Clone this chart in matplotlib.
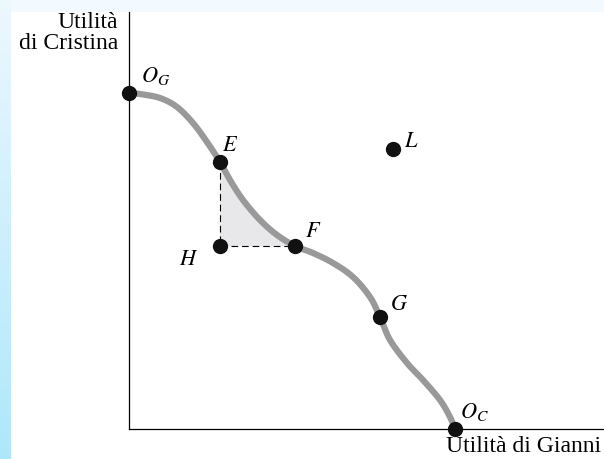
import matplotlib.pyplot as plt
import matplotlib.patches as mpatches
import numpy as np

plt.rcParams['mathtext.fontset'] = 'stix'

# frontier of utility possibilities (Gianni, Cristina)
curve_x = [0, 1.1, 3.1, 4.8, 6.4, 7.8, 9.1, 10.1, 11.4, 13.1, 14.8, 16.6,
           18.4, 20.4, 22.4, 24.1, 25.1, 26.1, 27.8, 29.4, 31.1, 32.1, 32.6]
curve_y = [33.6, 33.5, 33.1, 32.2, 30.6, 28.7, 26.7, 24.9, 22.9, 20.9, 19.4, 18.3,
           17.6, 16.6, 15.2, 13.2, 11.2, 8.9, 6.6, 4.9, 2.9, 1.2, 0]

point_names = ['$O_G$', '$E$', '$F$', '$H$', '$G$', '$O_C$', '$L$']
point_x = [0, 9.1, 16.6, 9.1, 25.1, 32.6, 26.4]
point_y = [33.6, 26.7, 18.3, 18.3, 11.2, 0, 28.0]
label_dx = [1.2, 0.2, 1.0, -4.1, 1.0, 0.5, 1.1]
label_dy = [0.6, 0.7, 0.5, -2.3, 0.3, 0.6, -0.2]


def smooth(xs, ys, n=12):
    # catmull-rom pass through the read points, only for drawing
    p = np.column_stack([xs, ys])
    p = np.vstack([p[0], p, p[-1]])
    out = []
    for i in range(1, len(p) - 2):
        p0, p1, p2, p3 = p[i - 1], p[i], p[i + 1], p[i + 2]
        for t in np.linspace(0, 1, n, endpoint=False):
            out.append(0.5 * (2 * p1 + (p2 - p0) * t + (2 * p0 - 5 * p1 + 4 * p2 - p3) * t ** 2
                              + (3 * p1 - p0 - 3 * p2 + p3) * t ** 3))
    out.append(p[-2])
    out = np.array(out)
    return out[:, 0], out[:, 1]


fig = plt.figure(figsize=(6.04, 4.59), dpi=100)

# light blue border strips
bg = fig.add_axes([0, 0, 1, 1], zorder=-5)
bg.set_axis_off()
grad = np.linspace(0, 1, 200)[:, None]
cols = np.array([0.93, 0.97, 1.0]) * (1 - grad[..., None]) + np.array([0.68, 0.91, 0.98]) * grad[..., None]
bg.imshow(cols, extent=(0, 11, 459, 0), aspect='auto')
bg.add_patch(mpatches.Rectangle((11, 0), 593, 12, color='#f2f9ff', lw=0))
bg.set_xlim(0, 604)
bg.set_ylim(459, 0)

ax = fig.add_axes([129 / 604, 30 / 459, 475 / 604, 417 / 459])
ax.set_xlim(0, 47.5)
ax.set_ylim(0, 41.7)
for s in ['top', 'right']:
    ax.spines[s].set_visible(False)
ax.spines['left'].set_linewidth(0.9)
ax.spines['bottom'].set_linewidth(0.9)
ax.set_xticks([])
ax.set_yticks([])
ax.patch.set_alpha(0)

sx, sy = smooth(curve_x, curve_y)

# shaded region between E, H, F
i0, i1 = 6 * 12, 11 * 12
ax.fill(np.r_[point_x[3], sx[i0:i1 + 1]], np.r_[point_y[3], sy[i0:i1 + 1]],
        color='#e8e8ea', lw=0, zorder=1)
ax.plot([point_x[1], point_x[3], point_x[2]], [point_y[1], point_y[3], point_y[2]],
        ls=(0, (6, 3.5)), color='black', lw=0.8, zorder=2)

ax.plot(sx, sy, color='#999999', lw=4.5, solid_capstyle='round', zorder=3)
ax.scatter(point_x, point_y, s=100, color='#111111', zorder=5, clip_on=False)

for name, x, y, dx, dy in zip(point_names, point_x, point_y, label_dx, label_dy):
    ax.text(x + dx, y + dy, name, fontsize=16, ha='left', va='bottom')

fig.text(118 / 604, 1 - 12 / 459, 'Utilità\ndi Cristina', ha='right', va='top',
         family='Liberation Serif', fontsize=17, linespacing=1.0)
fig.text(601 / 604, 1 - 436 / 459, 'Utilità di Gianni', ha='right', va='top',
         family='Liberation Serif', fontsize=17)

fig.savefig('out.png', dpi=100)
